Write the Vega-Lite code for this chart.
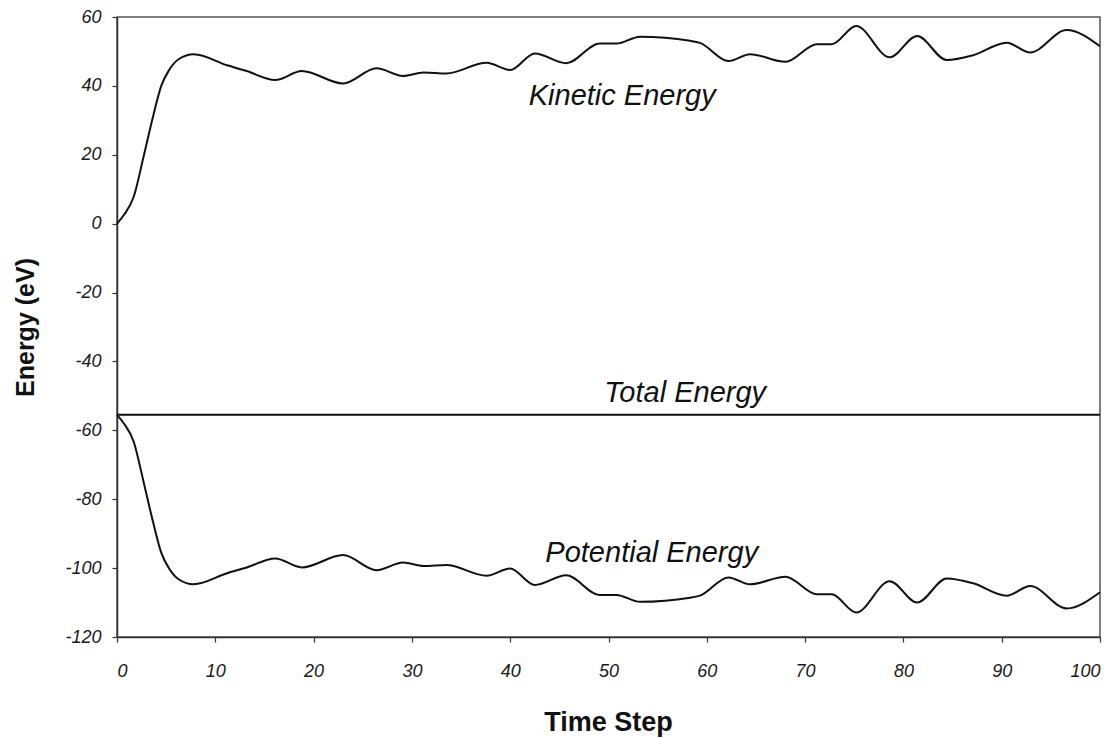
{
  "$schema": "https://vega.github.io/schema/vega-lite/v6.json",
  "width": 983,
  "height": 620,
  "autosize": {"type": "none"},
  "padding": {"left": 117, "top": 17, "right": 20, "bottom": 102},
  "background": "white",
  "config": {
    "font": "Liberation Sans",
    "view": {"stroke": "#555", "strokeWidth": 1.5},
    "axis": {
      "grid": false,
      "domainColor": "#333",
      "domainWidth": 1.5,
      "tickColor": "#333",
      "tickWidth": 1.2,
      "tickSize": 5,
      "labelFont": "Liberation Sans",
      "labelFontStyle": "italic",
      "labelColor": "#1a1a1a",
      "titleFont": "Liberation Sans",
      "titleFontWeight": "bold",
      "titleColor": "#111"
    }
  },
  "datasets": {
    "energy": [
      {"t": 0, "kinetic": 0, "potential": -55.5, "total": -55.5},
      {"t": 0.7, "kinetic": 2.5, "potential": -58, "total": -55.5},
      {"t": 1.7, "kinetic": 7.8, "potential": -63.3, "total": -55.5},
      {"t": 2.7, "kinetic": 19.4, "potential": -74.9, "total": -55.5},
      {"t": 3.7, "kinetic": 31.5, "potential": -87, "total": -55.5},
      {"t": 4.5, "kinetic": 40, "potential": -95.5, "total": -55.5},
      {"t": 5.3, "kinetic": 44.6, "potential": -100.1, "total": -55.5},
      {"t": 6.3, "kinetic": 47.8, "potential": -103.3, "total": -55.5},
      {"t": 7.8, "kinetic": 49.2, "potential": -104.7, "total": -55.5},
      {"t": 11.2, "kinetic": 46, "potential": -101.5, "total": -55.5},
      {"t": 13.2, "kinetic": 44.3, "potential": -99.8, "total": -55.5},
      {"t": 16.1, "kinetic": 41.7, "potential": -97.2, "total": -55.5},
      {"t": 18.8, "kinetic": 44.3, "potential": -99.8, "total": -55.5},
      {"t": 23.0, "kinetic": 40.7, "potential": -96.2, "total": -55.5},
      {"t": 26.4, "kinetic": 45.1, "potential": -100.6, "total": -55.5},
      {"t": 29.1, "kinetic": 42.9, "potential": -98.4, "total": -55.5},
      {"t": 31.2, "kinetic": 43.9, "potential": -99.4, "total": -55.5},
      {"t": 33.5, "kinetic": 43.6, "potential": -99.1, "total": -55.5},
      {"t": 37.6, "kinetic": 46.7, "potential": -102.2, "total": -55.5},
      {"t": 40.0, "kinetic": 44.6, "potential": -100.1, "total": -55.5},
      {"t": 42.5, "kinetic": 49.4, "potential": -104.9, "total": -55.5},
      {"t": 45.7, "kinetic": 46.6, "potential": -102.1, "total": -55.5},
      {"t": 49.1, "kinetic": 52.3, "potential": -107.8, "total": -55.5},
      {"t": 50.8, "kinetic": 52.3, "potential": -107.8, "total": -55.5},
      {"t": 53.2, "kinetic": 54.3, "potential": -109.8, "total": -55.5},
      {"t": 58.3, "kinetic": 53.1, "potential": -108.6, "total": -55.5},
      {"t": 59.3, "kinetic": 52.5, "potential": -108, "total": -55.5},
      {"t": 62.2, "kinetic": 47.2, "potential": -102.7, "total": -55.5},
      {"t": 64.4, "kinetic": 49.2, "potential": -104.7, "total": -55.5},
      {"t": 68.0, "kinetic": 47.0, "potential": -102.5, "total": -55.5},
      {"t": 71.2, "kinetic": 52.1, "potential": -107.6, "total": -55.5},
      {"t": 72.7, "kinetic": 52.1, "potential": -107.6, "total": -55.5},
      {"t": 75.2, "kinetic": 57.4, "potential": -112.9, "total": -55.5},
      {"t": 78.6, "kinetic": 48.3, "potential": -103.8, "total": -55.5},
      {"t": 81.4, "kinetic": 54.5, "potential": -110, "total": -55.5},
      {"t": 84.4, "kinetic": 47.5, "potential": -103, "total": -55.5},
      {"t": 87.1, "kinetic": 48.9, "potential": -104.4, "total": -55.5},
      {"t": 90.5, "kinetic": 52.5, "potential": -108, "total": -55.5},
      {"t": 92.9, "kinetic": 49.7, "potential": -105.2, "total": -55.5},
      {"t": 96.6, "kinetic": 56.2, "potential": -111.7, "total": -55.5},
      {"t": 100, "kinetic": 51.5, "potential": -107, "total": -55.5}
    ],
    "labels": [
      {"t": 51.4, "e": 34.4, "label": "Kinetic Energy"},
      {"t": 57.8, "e": -51.7, "label": "Total Energy"},
      {"t": 54.4, "e": -98.2, "label": "Potential Energy"}
    ]
  },
  "layer": [
    {
      "data": {"name": "energy"},
      "mark": {"type": "line", "interpolate": "monotone", "color": "#111", "strokeWidth": 2},
      "encoding": {
        "x": {
          "field": "t", "type": "quantitative",
          "scale": {"domain": [0, 100], "nice": false},
          "axis": {
            "values": [0, 10, 20, 30, 40, 50, 60, 70, 80, 90, 100],
            "labelFontSize": 18,
            "labelExpr": "'' + datum.value",
            "labelPadding": 20,
            "title": "Time Step",
            "titleFontSize": 27,
            "titleX": 491,
            "titleY": 93,
            "titleBaseline": "alphabetic",
            "titleAlign": "center"
          }
        },
        "y": {
          "field": "kinetic", "type": "quantitative",
          "scale": {"domain": [-120, 60], "nice": false},
          "axis": {
            "values": [-120, -100, -80, -60, -40, -20, 0, 20, 40, 60],
            "labelFontSize": 18,
            "labelExpr": "'' + datum.value",
            "labelPadding": 11,
            "title": "Energy (eV)",
            "titleFontSize": 25,
            "titleAngle": -90,
            "titleX": -92,
            "titleY": 310,
            "titleAlign": "center",
            "titleBaseline": "middle"
          }
        }
      }
    },
    {
      "data": {"name": "energy"},
      "mark": {"type": "line", "interpolate": "monotone", "color": "#111", "strokeWidth": 2},
      "encoding": {
        "x": {"field": "t", "type": "quantitative"},
        "y": {"field": "potential", "type": "quantitative"}
      }
    },
    {
      "data": {"name": "energy"},
      "mark": {"type": "line", "color": "#111", "strokeWidth": 2},
      "encoding": {
        "x": {"field": "t", "type": "quantitative"},
        "y": {"field": "total", "type": "quantitative"}
      }
    },
    {
      "data": {"name": "labels"},
      "mark": {"type": "text", "font": "Liberation Sans", "fontStyle": "italic", "fontSize": 29, "align": "center", "baseline": "alphabetic", "color": "#111"},
      "encoding": {
        "x": {"field": "t", "type": "quantitative"},
        "y": {"field": "e", "type": "quantitative"},
        "text": {"field": "label"}
      }
    }
  ]
}
